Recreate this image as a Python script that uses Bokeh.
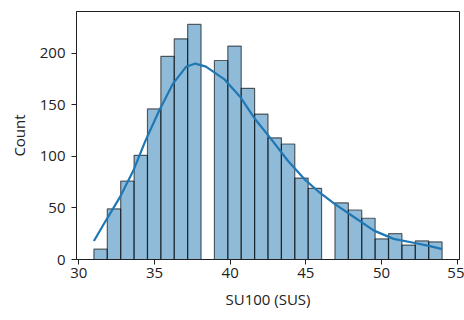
import numpy as np
from bokeh.plotting import figure
from bokeh.models import FixedTicker, ColumnDataSource
from bokeh.embed import file_html
from bokeh.resources import INLINE

# Histogram data (26 bins from 31 to 54)
bin_start = 31.0
bin_end = 54.0
counts = [10, 49, 76, 101, 146, 197, 214, 228, 0, 193, 207, 166, 141,
          118, 112, 79, 69, 0, 55, 48, 40, 20, 25, 14, 18, 17]

# KDE curve
kde_x = [31.0, 31.8, 32.7, 33.6, 34.4, 35.3, 36.2, 37.1, 37.7, 38.4, 39.6,
         40.7, 41.6, 42.7, 43.8, 44.9, 45.9, 46.9, 48.2, 49.5, 50.8, 52.2,
         53.2, 54.0]
kde_y = [18, 38, 60, 86, 115, 144, 170, 187, 190, 187, 175,
         157, 137, 117, 96, 78, 65, 54, 41, 28, 20, 16,
         13, 10]

x_ticks = [30, 35, 40, 45, 50, 55]
y_ticks = [0, 50, 100, 150, 200]

edges = np.linspace(bin_start, bin_end, len(counts) + 1)
src = ColumnDataSource(dict(left=edges[:-1], right=edges[1:], top=counts,
                            bottom=[0] * len(counts)))

FONT = "Open Sans"

p = figure(width=464, height=320, output_backend="svg", toolbar_location=None,
           x_range=(29.85, 55.15), y_range=(0, 240.5),
           min_border_left=76, min_border_right=5, min_border_top=11,
           min_border_bottom=61)

p.quad(left="left", right="right", top="top", bottom="bottom", source=src,
       fill_color="#1f77b4", fill_alpha=0.5, line_color="#000000",
       line_alpha=0.6, line_width=1.2)
p.line(kde_x, kde_y, line_color="#1f77b4", line_width=2.2)

p.xgrid.visible = False
p.ygrid.visible = False
p.outline_line_color = "#222222"
p.outline_line_width = 1

for ax in (p.xaxis[0], p.yaxis[0]):
    ax.major_tick_out = 5
    ax.major_tick_in = 0
    ax.minor_tick_line_color = None
    ax.axis_line_color = "#222222"
    ax.major_tick_line_color = "#222222"
    ax.major_label_text_font = FONT
    ax.major_label_text_font_size = "15px"
    ax.major_label_text_color = "#222222"
    ax.axis_label_text_font = FONT
    ax.axis_label_text_font_size = "15px"
    ax.axis_label_text_font_style = "normal"
    ax.axis_label_text_color = "#222222"

p.xaxis[0].ticker = FixedTicker(ticks=x_ticks)
p.yaxis[0].ticker = FixedTicker(ticks=y_ticks)
p.xaxis[0].axis_label = "SU100 (SUS)"
p.yaxis[0].axis_label = "Count"
p.xaxis[0].major_label_standoff = 3
p.xaxis[0].axis_label_standoff = 8
p.yaxis[0].major_label_standoff = 6
p.yaxis[0].axis_label_standoff = 8

open("out.html", "w").write(file_html(p, INLINE))
